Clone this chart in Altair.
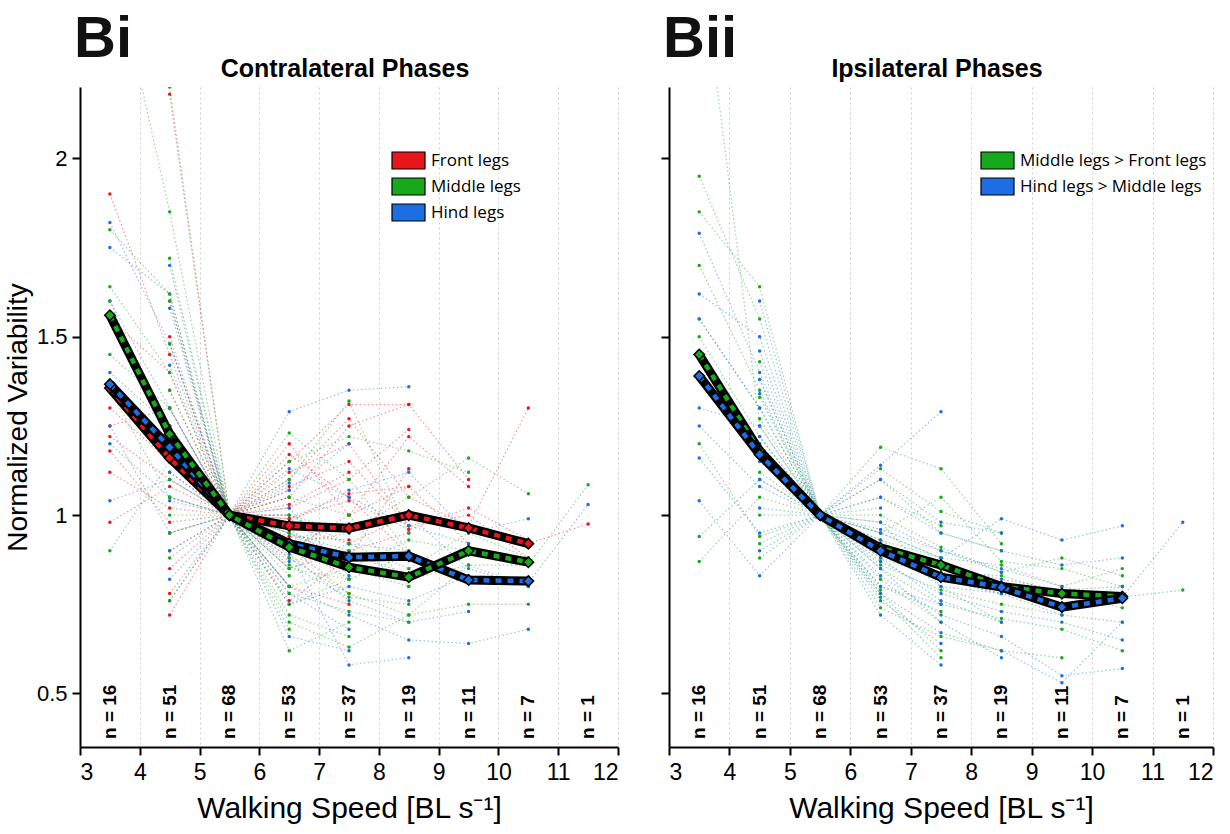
import altair as alt
import pandas as pd

N = None
speed_bins = [3.5, 4.5, 5.5, 6.5, 7.5, 8.5, 9.5, 10.5, 11.5]
n_labels = ["n = 16", "n = 51", "n = 68", "n = 53", "n = 37", "n = 19", "n = 11", "n = 7", "n = 1"]
x_ticks = [3, 4, 5, 6, 7, 8, 9, 10, 11, 12]
y_ticks = [0.5, 1, 1.5, 2]

# ---- Contralateral (Bi) individual traces, values at speed_bins ----
contra_front_traces = [
    [1.90, 1.45, 1, 1.05, 1.25, 1.31, N, N, N],
    [1.36, 1.20, 1, 0.97, 0.92, 1.00, 0.96, 0.92, 0.975],
    [1.22, 1.10, 1, 1.10, 1.27, 1.05, 0.97, 1.30, N],
    [1.18, 0.98, 1, 0.85, 0.90, 0.95, N, N, N],
    [1.25, 1.30, 1, 1.02, 1.10, 1.24, N, N, N],
    [1.55, 1.40, 1, 0.93, 0.82, N, N, N, N],
    [0.98, 1.08, 1, 0.96, N, N, N, N, N],
    [1.30, 1.15, 1, 1.12, 1.20, 0.97, 1.00, 0.88, N],
    [1.12, 1.02, 1, 0.99, 1.04, 0.96, 1.02, 0.93, N],
    [N, 0.72, 1, 0.80, 0.75, N, N, N, N],
    [N, 0.95, 1, 1.15, 1.31, 1.31, 1.10, N, N],
    [N, 1.25, 1, 0.90, 1.00, 1.08, 0.92, N, N],
    [N, 1.05, 1, 1.08, 1.15, 0.97, N, N, N],
    [N, 1.50, 1, 0.88, N, N, N, N, N],
    [N, 0.85, 1, 1.17, 1.05, 0.89, N, N, N],
    [N, 1.12, 1, 0.98, 0.97, N, N, N, N],
    [N, 1.35, 1, 1.05, N, N, N, N, N],
    [N, 0.90, 1, 0.76, 0.88, 1.13, N, N, N],
    [N, 2.18, 1, 1.00, N, N, N, N, N],
    [N, 1.20, 1, 1.20, 1.00, 1.22, 1.08, N, N],
    [N, 0.78, 1, 0.94, 0.93, N, N, N, N],
    [N, 1.60, 1, 1.03, 1.12, N, N, N, N],
    [N, N, 1, 0.99, 1.06, 1.08, N, N, N],
    [N, N, 1, 0.91, 0.78, N, N, N, N],
    [N, N, 1, 1.07, N, N, N, N, N],
]
contra_middle_traces = [
    [1.80, 1.62, 1, 0.95, 0.85, 0.80, N, N, N],
    [1.56, 1.25, 1, 0.88, 0.78, 0.72, 0.86, 0.86, 1.085],
    [0.90, 1.15, 1, 0.62, 0.70, N, N, N, N],
    [1.64, 1.40, 1, 0.92, 0.95, 1.05, 1.16, 1.06, N],
    [1.45, 1.30, 1, 1.23, 1.10, 0.90, N, N, N],
    [2.60, 1.85, 1, 0.85, 0.82, N, N, N, N],
    [1.35, 1.05, 1, 0.78, 0.73, 0.70, N, N, N],
    [1.60, 1.20, 1, 1.00, 0.92, 0.85, 0.95, 0.88, N],
    [N, 2.20, 1, 0.90, N, N, N, N, N],
    [N, 0.95, 1, 1.10, 1.32, 0.95, N, N, N],
    [N, 1.72, 1, 0.70, 0.63, 0.72, 0.75, 0.75, N],
    [N, 1.10, 1, 0.93, 0.88, N, N, N, N],
    [N, 0.76, 1, 0.83, N, N, N, N, N],
    [N, 1.35, 1, 1.15, 1.22, 1.18, 1.12, N, N],
    [N, 1.48, 1, 0.75, 0.82, 0.89, N, N, N],
    [N, 1.00, 1, 0.97, N, N, N, N, N],
    [N, 1.25, 1, 0.80, 0.85, 0.93, 0.90, 0.87, N],
    [N, 0.88, 1, 0.72, 0.66, N, N, N, N],
    [N, 1.60, 1, 1.05, 1.00, 0.80, N, N, N],
    [N, N, 1, 0.86, 0.77, 0.75, N, N, N],
    [N, N, 1, 0.68, N, N, N, N, N],
    [N, 1.16, 1, 0.95, 0.90, 0.82, 0.86, 0.80, N],
]
contra_hind_traces = [
    [1.82, 1.48, 1, 0.95, 0.88, N, N, N, N],
    [1.37, 1.18, 1, 0.92, 0.88, 0.88, 0.82, 0.81, 1.03],
    [1.04, 1.10, 1, 1.29, 1.35, 1.36, N, N, N],
    [1.60, 1.30, 1, 0.80, 0.72, 0.65, 0.64, 0.68, N],
    [1.25, 0.95, 1, 0.87, 0.90, 0.83, N, N, N],
    [1.75, 1.62, 1, 0.98, 1.07, 1.12, 0.95, 0.99, N],
    [1.20, 1.05, 1, 0.90, 0.58, 0.60, N, N, N],
    [1.40, 1.25, 1, 1.02, 0.83, N, N, N, N],
    [N, 1.70, 1, 0.66, 0.62, N, N, N, N],
    [N, 0.82, 1, 0.93, N, N, N, N, N],
    [N, 1.42, 1, 1.13, 1.05, 0.97, 0.92, N, N],
    [N, 1.12, 1, 0.75, 0.80, 0.76, 0.83, 0.82, N],
    [N, 1.58, 1, 1.07, 1.20, N, N, N, N],
    [N, 0.90, 1, 0.85, 0.92, 0.90, N, N, N],
    [N, 1.30, 1, 0.96, 0.86, N, N, N, N],
    [N, 1.04, 1, 0.80, N, N, N, N, N],
    [N, 1.20, 1, 0.89, 0.76, 0.70, 0.73, N, N],
    [N, 0.76, 1, 1.00, 0.95, N, N, N, N],
    [N, N, 1, 1.09, N, N, N, N, N],
    [N, N, 1, 0.78, 0.68, N, N, N, N],
    [N, 1.48, 1, 0.93, 0.97, 1.00, 0.85, 0.80, N],
]

# ---- Ipsilateral (Bii) individual traces ----
ipsi_mf_traces = [
    [1.95, 1.55, 1, 1.19, 1.13, 0.92, N, N, N],
    [1.45, 1.18, 1, 0.90, 0.86, 0.80, 0.78, 0.77, 0.79],
    [1.85, 1.64, 1, 0.98, 0.80, 0.70, N, N, N],
    [0.87, 1.05, 1, 0.80, 0.73, N, N, N, N],
    [1.55, 1.30, 1, 0.95, 1.05, 0.87, 0.85, 0.80, N],
    [2.60, 1.25, 1, 0.78, 0.62, N, N, N, N],
    [1.20, 0.94, 1, 0.90, 0.84, 0.83, 0.78, 0.74, N],
    [1.70, 1.35, 1, 1.10, 0.95, 0.90, N, N, N],
    [1.50, 1.22, 1, 0.86, 0.79, 0.75, 0.72, 0.70, N],
    [0.94, 1.10, 1, 0.74, 0.66, 0.62, 0.60, N, N],
    [N, 1.33, 1, 1.00, 0.91, 0.84, 0.88, 0.83, N],
    [N, 1.12, 1, 0.82, 0.70, N, N, N, N],
    [N, 1.43, 1, 1.13, 1.01, 0.95, N, N, N],
    [N, 0.88, 1, 0.77, 0.60, N, N, N, N],
    [N, 1.27, 1, 0.93, 0.88, 0.86, 0.80, 0.85, N],
    [N, 1.00, 1, 0.85, 0.75, 0.71, 0.68, 0.62, N],
    [N, 1.20, 1, 1.05, 0.97, N, N, N, N],
    [N, 1.38, 1, 0.88, 0.82, 0.78, 0.75, 0.80, N],
    [N, 0.92, 1, 0.79, N, N, N, N, N],
    [N, N, 1, 0.95, 0.88, N, N, N, N],
]
ipsi_hm_traces = [
    [1.79, 1.40, 1, 0.92, 0.80, 0.78, N, N, N],
    [1.39, 1.17, 1, 0.90, 0.83, 0.80, 0.74, 0.77, 0.98],
    [1.62, 1.50, 1, 1.14, 1.29, N, N, N, N],
    [1.04, 0.83, 1, 0.85, 0.70, 0.60, N, N, N],
    [1.55, 1.30, 1, 0.95, 0.88, 0.99, 0.93, 0.97, N],
    [1.25, 1.08, 1, 0.78, 0.67, 0.62, 0.53, 0.70, N],
    [1.45, 1.20, 1, 1.05, 0.95, 0.90, 0.86, 0.88, N],
    [1.16, 0.95, 1, 0.88, 0.76, 0.70, N, N, N],
    [1.30, 1.25, 1, 0.72, 0.58, N, N, N, N],
    [N, 1.46, 1, 0.98, 0.90, 0.85, 0.80, 0.76, N],
    [N, 1.10, 1, 0.83, 0.72, 0.66, 0.55, 0.57, N],
    [N, 1.60, 1, 1.10, 0.98, 0.95, N, N, N],
    [N, 1.02, 1, 0.93, 0.82, 0.78, 0.72, N, N],
    [N, 1.34, 1, 0.80, 0.75, N, N, N, N],
    [N, 0.90, 1, 0.96, 0.90, 0.84, N, N, N],
    [N, 1.22, 1, 0.87, 0.78, 0.73, 0.70, 0.65, N],
    [N, 1.15, 1, 1.02, N, N, N, N, N],
    [N, N, 1, 0.76, 0.64, N, N, N, N],
    [N, 1.38, 1, 0.91, 0.86, 0.82, 0.79, 0.80, N],
]

# ---- Mean curves (bins 3.5 ... 10.5) ----
contra_front_mean = [1.356, 1.16, 1.0, 0.97, 0.963, 1.0, 0.964, 0.92]
contra_middle_mean = [1.56, 1.227, 1.0, 0.91, 0.854, 0.826, 0.90, 0.868]
contra_hind_mean = [1.367, 1.19, 1.0, 0.92, 0.882, 0.885, 0.818, 0.815]
ipsi_mf_mean = [1.45, 1.18, 1.0, 0.908, 0.86, 0.80, 0.78, 0.772]
ipsi_hm_mean = [1.39, 1.17, 1.0, 0.90, 0.826, 0.798, 0.742, 0.767]

series_names = ["Front legs", "Middle legs", "Hind legs",
                "Middle legs > Front legs", "Hind legs > Middle legs"]
series_colors = ["#e8161b", "#17a81c", "#1d6ee3", "#17a81c", "#1d6ee3"]

FONT = "Liberation Sans"
H = 660
Y_DOMAIN = [0.35, 2.2]
X_DOMAIN = [3, 12]

color_scale = alt.Scale(domain=series_names, range=series_colors)


def traces_df(name, traces):
    rows = []
    for i, tr in enumerate(traces):
        for x, v in zip(speed_bins, tr):
            if v is not None:
                rows.append({"series": name, "trace": f"{name}-{i}", "speed": x, "value": v})
    return rows


def panel(series, legend_order, panel_label, title, show_labels, W, leg_x):
    rows = []
    for name, traces, _ in series:
        rows += traces_df(name, traces)
    df = pd.DataFrame(rows)

    xenc = alt.X("speed:Q", scale=alt.Scale(domain=X_DOMAIN, nice=False),
                 axis=alt.Axis(values=x_ticks, format="d", labelOverlap=False,
                               title="Walking Speed [BL s⁻¹]",
                               grid=True, gridDash=[2, 3], gridColor="#cfcfcf",
                               labelFontSize=23, titleFontSize=30, titleFontWeight="normal",
                               titlePadding=9, labelPadding=6))
    yenc = alt.Y("value:Q", scale=alt.Scale(domain=Y_DOMAIN, nice=False, zero=False),
                 axis=alt.Axis(values=y_ticks, format="~g", grid=False,
                               labels=show_labels,
                               title="Normalized Variability" if show_labels else None,
                               labelFontSize=22, titleFontSize=28, titleFontWeight="normal",
                               titlePadding=4, labelPadding=5))

    base = alt.Chart(df)
    lines = base.mark_line(strokeDash=[1.5, 2.5], strokeWidth=1.2, opacity=0.45, clip=True).encode(
        x=xenc, y=yenc, detail="trace:N",
        color=alt.Color("series:N", scale=color_scale, legend=None))
    dots = base.mark_circle(size=12, opacity=1, clip=True).encode(
        x="speed:Q", y="value:Q",
        color=alt.Color("series:N", scale=color_scale, legend=None))

    layers = [lines, dots]
    for name, _, mean in series:
        mdf = pd.DataFrame({"speed": speed_bins[:len(mean)], "value": mean, "series": name})
        mb = alt.Chart(mdf)
        layers.append(mb.mark_line(color="black", strokeWidth=9).encode(x="speed:Q", y="value:Q"))
        layers.append(mb.mark_line(strokeWidth=4.5, strokeDash=[6, 6]).encode(
            x="speed:Q", y="value:Q",
            color=alt.Color("series:N", scale=color_scale, legend=None)))
        layers.append(mb.mark_point(shape="diamond", filled=True, size=110, stroke="black",
                                    strokeWidth=1.5, opacity=1).encode(
            x="speed:Q", y="value:Q",
            fill=alt.Fill("series:N", scale=color_scale, legend=None)))

    ndf = pd.DataFrame({"speed": speed_bins, "label": n_labels})
    layers.append(alt.Chart(ndf).mark_text(angle=270, align="left", baseline="middle",
                                           font=FONT, fontSize=19, fontWeight="bold",
                                           color="black").encode(
        x="speed:Q", y=alt.value(652), text="label:N"))

    # legend
    leg_rows = []
    for i, name in enumerate(legend_order):
        leg_rows.append({"series": name, "x0": leg_x, "x1": leg_x + 33,
                         "y0": 65 + 26 * i, "y1": 82 + 26 * i,
                         "tx": leg_x + 39, "ty": 74 + 26 * i})
    ldf = pd.DataFrame(leg_rows)
    lb = alt.Chart(ldf)
    layers.append(lb.mark_rect(stroke="black", strokeWidth=1.2).encode(
        x=alt.X("x0:Q", scale=None), x2="x1:Q",
        y=alt.Y("y0:Q", scale=None), y2="y1:Q",
        fill=alt.Fill("series:N", scale=color_scale, legend=None)))
    layers.append(lb.mark_text(align="left", baseline="middle", font="Open Sans",
                               fontSize=17, color="black").encode(
        x=alt.X("tx:Q", scale=None), y=alt.Y("ty:Q", scale=None), text="series:N"))

    # panel label and title
    tdf = pd.DataFrame({"txt": [panel_label]})
    layers.append(alt.Chart(tdf).mark_text(align="left", baseline="alphabetic", font=FONT,
                                           fontSize=58, fontWeight="bold", color="#111").encode(
        x=alt.value(-6), y=alt.value(-30), text="txt:N"))
    tdf2 = pd.DataFrame({"txt": [title]})
    layers.append(alt.Chart(tdf2).mark_text(align="center", baseline="alphabetic", font=FONT,
                                            fontSize=25, fontWeight="bold", color="black").encode(
        x=alt.value(W / 2 - 4), y=alt.value(-10), text="txt:N"))

    return alt.layer(*layers).properties(width=W, height=H)


left = panel([("Front legs", contra_front_traces, contra_front_mean),
              ("Hind legs", contra_hind_traces, contra_hind_mean),
              ("Middle legs", contra_middle_traces, contra_middle_mean)],
             ["Front legs", "Middle legs", "Hind legs"],
             "Bi", "Contralateral Phases", True, 538, 312)
right = panel([("Middle legs > Front legs", ipsi_mf_traces, ipsi_mf_mean),
               ("Hind legs > Middle legs", ipsi_hm_traces, ipsi_hm_mean)],
              ["Middle legs > Front legs", "Hind legs > Middle legs"],
              "Bii", "Ipsilateral Phases", False, 544, 312)

chart = alt.hconcat(left, right, spacing=41).properties(
    padding={"left": 4, "top": 11, "right": 2, "bottom": 5}
).configure_view(stroke=None).configure_axis(
    domainColor="black", domainWidth=2, tickColor="black", tickWidth=2, tickSize=8,
    labelColor="black", titleColor="black", labelFont=FONT, titleFont=FONT
)

chart.save("out.html", embed_options={"renderer": "svg", "actions": False})
